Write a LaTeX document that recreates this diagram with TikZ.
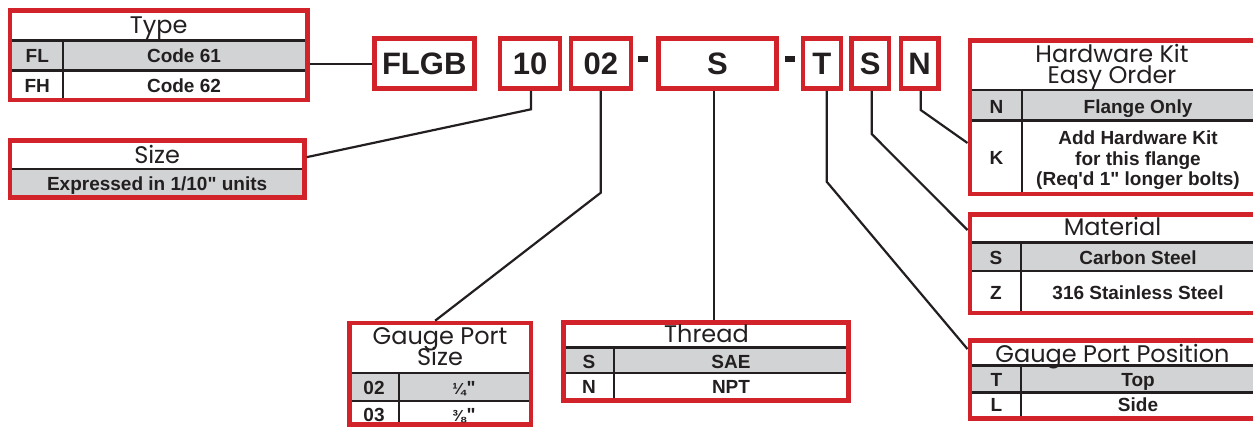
\documentclass[tikz,border=0pt]{standalone}
\usepackage{fontspec}
\setmainfont{Liberation Sans}[Ligatures=TeXOff]
\newfontfamily\titlefont{Poppins}
\definecolor{tred}{HTML}{D2232A}
\definecolor{tgray}{HTML}{D1D3D4}
\definecolor{tblack}{HTML}{231F20}
\newcommand{\tightlines}{\lineskiplimit -30pt\relax}
\tikzset{
  frame/.style={draw=tred, line width=4.6pt, inner sep=0pt, rectangle},
  codebox/.style={frame, minimum height=49.7pt, text=tblack, font=\bfseries\fontsize{31}{33}\selectfont},
  dashbox/.style={fill=tblack, inner sep=0pt, minimum width=10pt, minimum height=5.7pt},
  rowline/.style={draw=tblack, line width=2.4pt},
  colline/.style={draw=tblack, line width=2pt},
  conn/.style={draw=tblack, line width=2.2pt},
  ttl/.style={inner sep=0pt, anchor=base, text=tblack, font=\titlefont\fontsize{24}{21}\selectfont\tightlines},
  cell/.style={inner sep=0pt, anchor=base, text=tblack, font=\bfseries\fontsize{19}{20.5}\selectfont\tightlines},
}
\newcommand{\fracglyph}[1]{{\fontsize{16}{16}\selectfont #1}\kern1pt}
\begin{document}
\begin{tikzpicture}[x=1pt,y=-1pt]
\useasboundingbox (0,0) rectangle (1253,427);

% ---------- code boxes ----------
\node[codebox, minimum width=100pt] (cflgb) at (424.2,63.65) {FLGB};
\node[codebox, minimum width=60pt] (c10) at (530,63.65) {10};
\node[codebox, minimum width=60pt] (c02) at (600.8,63.65) {02};
\node[dashbox] (d1) at (643.3,58.85) {};
\node[codebox, minimum width=118.2pt] (cthr) at (717.4,63.65) {S};
\node[dashbox] (d2) at (789.5,58.85) {};
\node[codebox, minimum width=37.8pt] (cpos) at (821.9,63.65) {T};
\node[codebox, minimum width=37.5pt] (cmat) at (870.25,63.65) {S};
\node[codebox, minimum width=37.7pt] (chw) at (919.65,63.65) {N};

% ---------- Type ----------
\fill[tgray] (9.8,40.7) rectangle (307.5,70.5);
\draw[rowline] (9.8,40.7) -- (307.5,40.7);
\draw[rowline] (9.8,70.5) -- (307.5,70.5);
\draw[colline] (63,40.7) -- (63,100);
\node[frame, minimum width=297.7pt, minimum height=89.7pt] (type) at (158.65,55.15) {};
\node[ttl] (typet) at (158.65,33.3) {Type};
\node[cell] (fl) at (37.3,63) {FL};
\node[cell] (code61) at (184,63) {Code 61};
\node[cell] (fh) at (37.3,93) {FH};
\node[cell] (code62) at (184,93) {Code 62};

% ---------- Size ----------
\fill[tgray] (9.8,169) rectangle (304.5,197.5);
\draw[rowline] (9.8,169) -- (304.5,169);
\node[frame, minimum width=294.7pt, minimum height=56.7pt] (size) at (157.15,169.15) {};
\node[ttl] (sizet) at (157.15,164) {Size};
\node[cell] (sizec) at (157.15,190.5) {Expressed in 1/10" units};

% ---------- Hardware Kit ----------
\fill[tgray] (969.8,90) rectangle (1258,120.7);
\draw[rowline] (969.8,90) -- (1258,90);
\draw[rowline] (969.8,120.7) -- (1258,120.7);
\draw[colline] (1021.7,90) -- (1021.7,194);
\node[frame, minimum width=288.2pt, minimum height=153.2pt] (hw) at (1113.9,117.4) {};
\node[ttl, align=center] (hwt) at (1112,83.3) {Hardware Kit\\Easy Order};
\node[cell] (hwn) at (996.5,113.3) {N};
\node[cell] (hwnc) at (1138,113.3) {Flange Only};
\node[cell] (hwk) at (996.5,165) {K};
\node[cell, align=center] (hwk1) at (1138,186) {Add Hardware Kit\\for this flange\\(Req'd 1" longer bolts)};

% ---------- Material ----------
\fill[tgray] (969.8,242.7) rectangle (1258,271);
\draw[rowline] (969.8,242.7) -- (1258,242.7);
\draw[rowline] (969.8,271) -- (1258,271);
\draw[colline] (1020.7,242.7) -- (1020.7,313);
\node[frame, minimum width=288.2pt, minimum height=98.2pt] (mat) at (1113.9,263.9) {};
\node[ttl] (matt) at (1112.5,235.7) {Material};
\node[cell] (mats) at (996,264.3) {S};
\node[cell] (matsc) at (1138,264.3) {Carbon Steel};
\node[cell] (matz) at (996,300) {Z};
\node[cell] (matzc) at (1138,300) {316 Stainless Steel};

% ---------- Gauge Port Position ----------
\fill[tgray] (969.8,365.7) rectangle (1258,392.7);
\draw[rowline] (969.8,365.7) -- (1258,365.7);
\draw[rowline] (969.8,392.7) -- (1258,392.7);
\draw[colline] (1021,365.7) -- (1021,418.3);
\node[frame, minimum width=288.2pt, minimum height=77.5pt] (gpp) at (1113.9,379.55) {};
\node[ttl] (gppt) at (1112.5,362.3) {Gauge Port Position};
\node[cell] (gppt1) at (996.5,386.7) {T};
\node[cell] (gpptc) at (1138,386.7) {Top};
\node[cell] (gppl) at (996.5,411.7) {L};
\node[cell] (gpplc) at (1138,411.7) {Side};

% ---------- Gauge Port Size ----------
\fill[tgray] (349.5,373.3) rectangle (530.8,401);
\draw[rowline] (349.5,373.3) -- (530.8,373.3);
\draw[rowline] (349.5,401) -- (530.8,401);
\draw[colline] (399.3,373.3) -- (399.3,424.7);
\node[frame, minimum width=181.3pt, minimum height=101.7pt] (gps) at (440.15,373.85) {};
\node[ttl, align=center, font=\titlefont\fontsize{24}{21.4}\selectfont\tightlines] (gpst) at (440,365.7) {Gauge Port\\Size};
\node[cell] (gps02) at (374,394.3) {02};
\node[cell] (gps02c) at (464,394.3) {\fracglyph{¼}"};
\node[cell] (gps03) at (374,421) {03};
\node[cell] (gps03c) at (464,421) {\fracglyph{⅜}"};

% ---------- Thread ----------
\fill[tgray] (563.5,347.7) rectangle (848.5,373.3);
\draw[rowline] (563.5,347.7) -- (848.5,347.7);
\draw[rowline] (563.5,373.3) -- (848.5,373.3);
\draw[colline] (614.3,347.7) -- (614.3,400.8);
\node[frame, minimum width=285pt, minimum height=78.3pt] (thread) at (706,361.65) {};
\node[ttl] (thrt) at (706.5,342.3) {Thread};
\node[cell] (thrs) at (589,368.3) {S};
\node[cell] (thrsc) at (731,368.3) {SAE};
\node[cell] (thrn) at (589,393.3) {N};
\node[cell] (thrnc) at (731,393.3) {NPT};

% ---------- connectors ----------
\coordinate (k10) at (531,109.3);
\coordinate (k02) at (600.8,192.7);
\coordinate (kT) at (826.7,181.7);
\coordinate (kS) at (871.7,134);
\coordinate (kN) at (920.7,110);
\draw[conn] (cflgb.west) -- (cflgb.west -| type.east);
\draw[conn] ([xshift=1pt]c10.south) -- (k10) -- ([yshift=12pt]size.east);
\draw[conn] (c02.south) -- (k02) -- ([xshift=-5pt]gps.north);
\draw[conn] ([xshift=-3.4pt]cthr.south) -- ([xshift=8pt]thread.north);
\draw[conn] ([xshift=4.8pt]cpos.south) -- (kT) -- ([yshift=30.5pt]gpp.west);
\draw[conn] ([xshift=1.45pt]cmat.south) -- (kS) -- ([yshift=33.9pt]mat.west);
\draw[conn] ([xshift=1pt]chw.south) -- (kN) -- ([yshift=-25.6pt]hw.west);
\end{tikzpicture}
\end{document}
